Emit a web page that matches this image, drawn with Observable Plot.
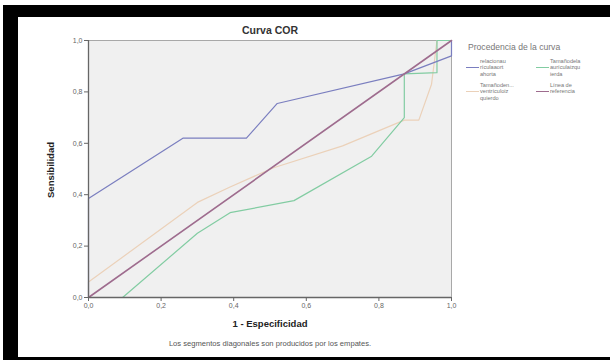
<!DOCTYPE html>
<html>
<head>
<meta charset="utf-8">
<script src="https://cdn.jsdelivr.net/npm/d3@7"></script>
<script src="https://cdn.jsdelivr.net/npm/@observablehq/plot@0.6"></script>
<style>
  html, body { margin: 0; padding: 0; background: #fff; }
  #wrap { position: relative; width: 610px; height: 360px; overflow: hidden; font-family: "Liberation Sans", Arial, sans-serif; }
  #outer { position: absolute; left: 3px; top: 5px; width: 607px; height: 355px; background: #000; }
  #inner { position: absolute; left: 18px; top: 17px; width: 592px; height: 340px; background: #fff; }
  #chart { position: absolute; left: 0; top: 0; }
  .t { position: absolute; white-space: nowrap; }
  #title { left: 0; width: 540px; top: 24px; text-align: center; font-size: 10.5px; font-weight: bold; color: #333; }
  #xlab { left: 0; width: 540px; top: 318px; text-align: center; font-size: 9.5px; font-weight: bold; color: #222; }
  #ylab { left: 50px; top: 170px; transform: translate(-50%, -50%) rotate(-90deg); font-size: 9.5px; font-weight: bold; color: #222; }
  #cap { left: 0; width: 540px; top: 339px; text-align: center; font-size: 7.6px; color: #555; }
  #legtitle { left: 468px; top: 42px; font-size: 8.6px; color: #777; }
  .ent { position: absolute; font-size: 5.6px; line-height: 6.4px; color: #777; white-space: nowrap; }
  .sw { position: absolute; height: 0; border-top: 1px solid; }
</style>
</head>
<body>
<div id="wrap">
  <div id="outer"></div>
  <div id="inner"></div>
  <div id="chart"></div>
  <div class="t" id="title"></div>
  <div class="t" id="ylab"></div>
  <div class="t" id="xlab"></div>
  <div class="t" id="cap"></div>
  <div class="t" id="legtitle"></div>
  <div id="legend"></div>
</div>
<script>
// ---- data ----
const chartTitle = "Curva COR";
const xLabel = "1 - Especificidad";
const yLabel = "Sensibilidad";
const caption = "Los segmentos diagonales son producidos por los empates.";
const legendTitle = "Procedencia de la curva";
const seriesNames = ["relacionau rículaaorta ahorta", "Tamañodela aurículaizqu ierda", "Tamañoden ventrículoiz quierdo", "Línea de referencia"];
const legendLines = [["relacionau", "rículaaort", "ahorta"], ["Tamañodela", "aurículaizqu", "ierda"], ["Tamañoden...", "ventrículoiz", "quierdo"], ["Línea de", "referencia"]];
const seriesColors = ["#7a7ebf", "#82cca2", "#ebd1b9", "#9e6c8e"];
const ticks = [0, 0.2, 0.4, 0.6, 0.8, 1.0];

const s1X = [0, 0, 0.26, 0.435, 0.52, 0.87, 1.0, 1.0];
const s1Y = [0, 0.385, 0.62, 0.62, 0.755, 0.87, 0.94, 1.0];
const s2X = [0, 0.094, 0.30, 0.39, 0.566, 0.78, 0.87, 0.87, 0.96, 0.96, 1.0];
const s2Y = [0, 0, 0.25, 0.33, 0.377, 0.55, 0.70, 0.87, 0.875, 1.0, 1.0];
const s3X = [0, 0, 0.30, 0.39, 0.51, 0.70, 0.87, 0.91, 0.945, 0.96, 1.0];
const s3Y = [0, 0.06, 0.37, 0.43, 0.505, 0.59, 0.69, 0.69, 0.83, 1.0, 1.0];
const refX = [0, 1];
const refY = [0, 1];

// ---- build ----
const toRows = (xs, ys, k) => xs.map((x, i) => ({x, y: ys[i], s: seriesNames[k]}));
const rows1 = toRows(s1X, s1Y, 0);
const rows2 = toRows(s2X, s2Y, 1);
const rows3 = toRows(s3X, s3Y, 2);
const rowsR = toRows(refX, refY, 3);
const fmt = d => d.toFixed(1).replace(".", ",");

const plot = Plot.plot({
  width: 610,
  height: 360,
  marginLeft: 88,
  marginRight: 159,
  marginTop: 40,
  marginBottom: 63,
  style: {background: "transparent", fontFamily: "Liberation Sans, Arial, sans-serif"},
  x: {domain: [0, 1]},
  y: {domain: [0, 1]},
  color: {domain: seriesNames, range: seriesColors},
  marks: [
    Plot.frame({fill: "#f0f0f0", stroke: "#a8a8a8"}),
    Plot.line(rows3, {x: "x", y: "y", stroke: "s", strokeWidth: 1.2}),
    Plot.line(rows2, {x: "x", y: "y", stroke: "s", strokeWidth: 1.2}),
    Plot.line(rows1, {x: "x", y: "y", stroke: "s", strokeWidth: 1.2}),
    Plot.line(rowsR, {x: "x", y: "y", stroke: "s", strokeWidth: 1.6}),
    Plot.ruleX([0], {stroke: "#666", strokeWidth: 1.3}),
    Plot.ruleY([0], {stroke: "#666", strokeWidth: 1.3}),
    Plot.axisX({ticks, tickFormat: fmt, tickSize: 4, tickPadding: 2, fontSize: 7, color: "#666", label: null}),
    Plot.axisY({ticks, tickFormat: fmt, tickSize: 4, tickPadding: 2, fontSize: 7, color: "#666", label: null})
  ]
});
document.getElementById("chart").appendChild(plot);

document.getElementById("title").textContent = chartTitle;
document.getElementById("xlab").textContent = xLabel;
document.getElementById("ylab").textContent = yLabel;
document.getElementById("cap").textContent = caption;
document.getElementById("legtitle").textContent = legendTitle;

const leg = document.getElementById("legend");
const pos = [[466, 58], [536, 58], [466, 82], [536, 82]];
legendLines.forEach((lines, i) => {
  const [lx, ly] = pos[i];
  const sw = document.createElement("div");
  sw.className = "sw";
  sw.style.left = lx + "px";
  sw.style.top = (ly + 9) + "px";
  sw.style.width = "13px";
  sw.style.borderColor = seriesColors[i];
  leg.appendChild(sw);
  const t = document.createElement("div");
  t.className = "ent";
  t.style.left = (lx + 14) + "px";
  t.style.top = ly + "px";
  t.innerHTML = lines.map(s => s.replace(/</g, "&lt;")).join("<br>");
  leg.appendChild(t);
});
</script>
</body>
</html>
